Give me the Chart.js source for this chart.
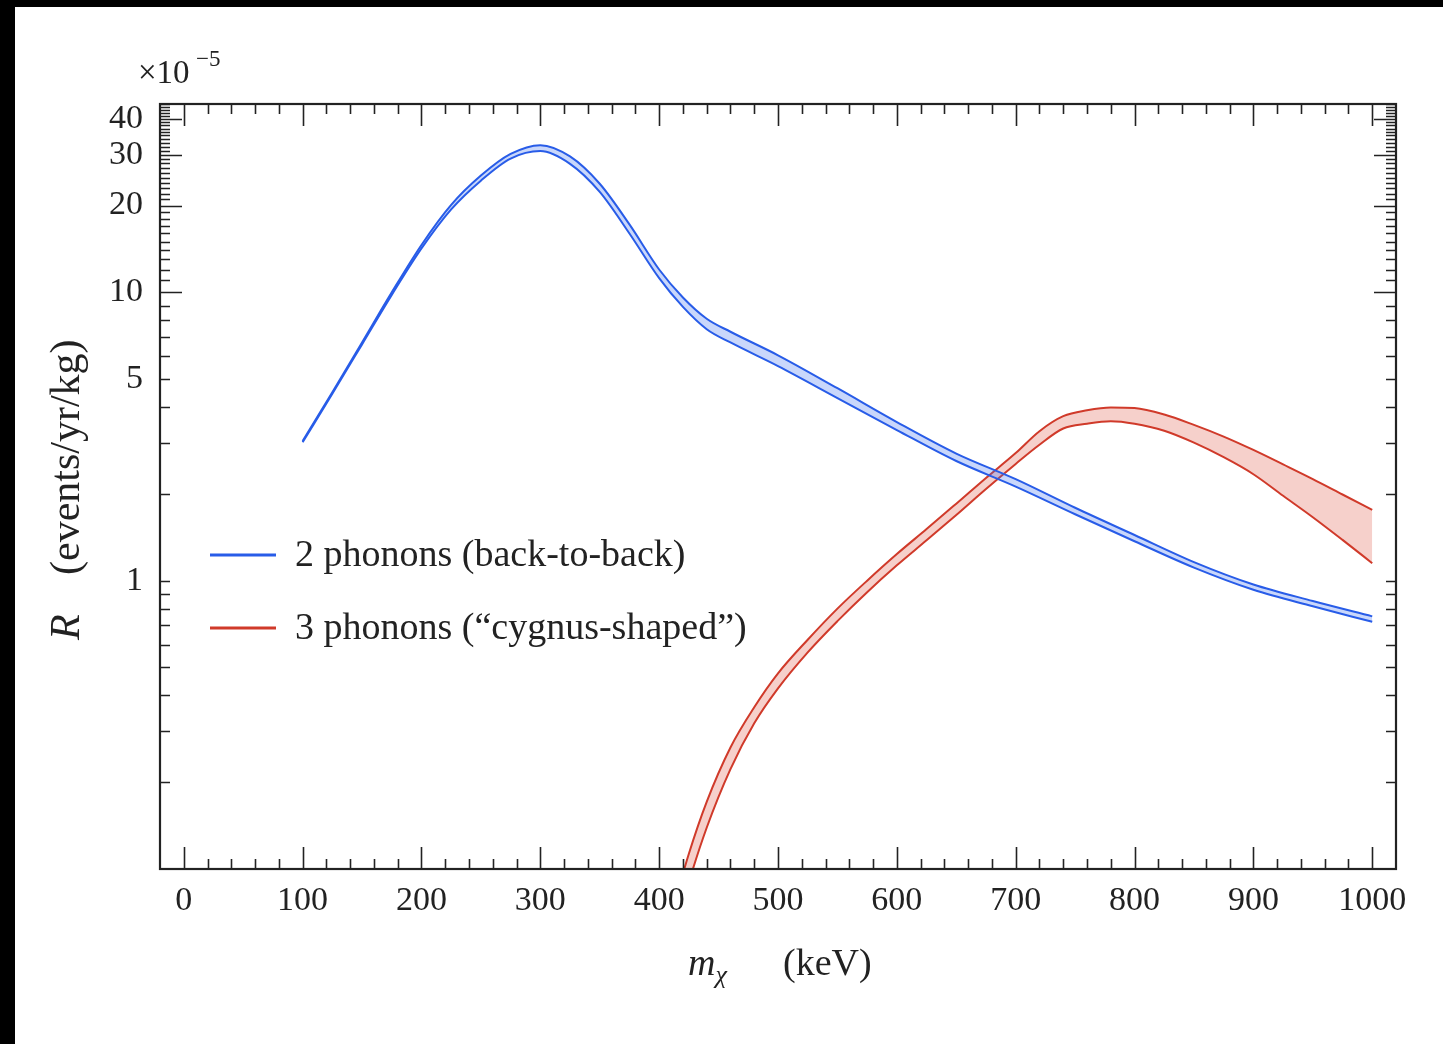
<!DOCTYPE html>
<html lang="en">
<head>
    <meta charset="UTF-8">
    <title>Event rate vs dark matter mass</title>
    <script src="https://cdn.jsdelivr.net/npm/chart.js"></script>
    <style>
        body { margin: 0; background: #000; }
        #wrap { position: absolute; left: 15px; top: 7px; width: 1428px; height: 1037px; background: #fff; }
        canvas { display: block; }
    </style>
</head>
<body>
<div id="wrap"><canvas id="rateChart" width="1428" height="1037"></canvas></div>
<script>
    // masses (keV) and rates (x 1e-5 events/yr/kg)
    const twoPhononMass = [100, 125, 150, 175, 200, 225, 250, 275, 300, 325, 350, 375, 400, 420, 440, 460, 500, 550, 600, 650, 700, 750, 800, 850, 900, 950, 1000];
    const twoPhononHigh = [3.05, 4.5, 6.7, 10.0, 14.6, 20.1, 25.4, 30.2, 32.4, 29.6, 23.8, 17.2, 12.0, 9.6, 8.1, 7.3, 6.05, 4.65, 3.55, 2.76, 2.25, 1.79, 1.44, 1.16, 0.97, 0.85, 0.752];
    const twoPhononLow = [3.02, 4.45, 6.6, 9.8, 14.2, 19.4, 24.4, 29.1, 30.9, 27.9, 22.3, 16.0, 11.2, 8.9, 7.45, 6.7, 5.55, 4.3, 3.33, 2.6, 2.12, 1.7, 1.37, 1.11, 0.93, 0.815, 0.72];

    const threePhononMass = [410, 425, 440, 460, 480, 500, 525, 550, 575, 600, 625, 650, 675, 700, 720, 740, 760, 780, 800, 825, 850, 875, 900, 925, 950, 975, 1000];
    const threePhononHigh = [0.069, 0.113, 0.171, 0.264, 0.364, 0.477, 0.624, 0.80, 1.0, 1.237, 1.51, 1.85, 2.27, 2.77, 3.30, 3.72, 3.90, 3.99, 3.97, 3.77, 3.47, 3.16, 2.84, 2.53, 2.25, 1.99, 1.76];
    const threePhononLow = [0.054, 0.090, 0.139, 0.222, 0.32, 0.423, 0.564, 0.724, 0.912, 1.13, 1.38, 1.69, 2.08, 2.54, 2.96, 3.37, 3.50, 3.57, 3.50, 3.31, 3.01, 2.68, 2.34, 1.97, 1.66, 1.385, 1.15];

    const seriesNames = ["2 phonons (back-to-back)", "3 phonons (\u201Ccygnus-shaped\u201D)"];

    // axis ticks
    const xLabelTicks = [0, 100, 200, 300, 400, 500, 600, 700, 800, 900, 1000];
    const xMinorTicks = [];
    for (let v = 20; v < 1000; v += 20) if (v % 100 !== 0) xMinorTicks.push(v);
    const yLabelTicks = [1, 5, 10, 20, 30, 40];
    const yLongTicks = [10, 20, 30, 40];
    const yShortTicks = [0.2, 0.3, 0.4, 0.5, 0.6, 0.7, 0.8, 0.9, 1, 2, 3, 4, 5, 6, 7, 8, 9];
    for (let v = 11; v <= 45; v++) if (v % 10 !== 0) yShortTicks.push(v);

    const BLUE = "rgb(40, 92, 232)";
    const BLUE_FILL = "rgba(60, 110, 240, 0.28)";
    const RED = "rgb(208, 58, 42)";
    const RED_FILL = "rgba(222, 72, 56, 0.26)";
    const INK = "#222";
    const SERIF = "'Liberation Serif', 'DejaVu Serif', serif";

    function pts(xs, ys) {
        return xs.map((x, i) => ({ x: x, y: ys[i] }));
    }

    // frame, inward ticks, titles, legend
    const framePlugin = {
        id: "frame",
        afterDraw(chart) {
            const ctx = chart.ctx;
            const a = chart.chartArea;
            const xs = chart.scales.x, ys = chart.scales.y;
            ctx.save();
            ctx.strokeStyle = INK;
            ctx.lineWidth = 1.6;
            ctx.beginPath();
            const xt = (vals, len) => vals.forEach(v => {
                const p = Math.round(xs.getPixelForValue(v)) + 0.5;
                ctx.moveTo(p, a.bottom); ctx.lineTo(p, a.bottom - len);
                ctx.moveTo(p, a.top); ctx.lineTo(p, a.top + len);
            });
            const yt = (vals, len) => vals.forEach(v => {
                const p = Math.round(ys.getPixelForValue(v)) + 0.5;
                ctx.moveTo(a.left, p); ctx.lineTo(a.left + len, p);
                ctx.moveTo(a.right, p); ctx.lineTo(a.right - len, p);
            });
            xt(xLabelTicks, 22);
            xt(xMinorTicks, 10);
            yt(yLongTicks, 22);
            yt(yShortTicks, 10);
            ctx.stroke();
            ctx.lineWidth = 2.2;
            ctx.strokeRect(a.left, a.top, a.right - a.left, a.bottom - a.top);

            ctx.fillStyle = INK;
            ctx.textAlign = "left";
            ctx.textBaseline = "alphabetic";

            // multiplier
            ctx.font = "33px " + SERIF;
            ctx.fillText("\u00D710", 123, 76);
            ctx.font = "23px " + SERIF;
            ctx.fillText("\u22125", 181, 59);

            // x title
            ctx.font = "italic 38px " + SERIF;
            ctx.fillText("m", 673, 968);
            const m = ctx.measureText("m").width;
            ctx.font = "italic 26px " + SERIF;
            ctx.fillText("\u03C7", 673 + m, 976);
            ctx.font = "38px " + SERIF;
            ctx.fillText("(keV)", 768, 968);

            // y title
            ctx.save();
            ctx.translate(64, 480);
            ctx.rotate(-Math.PI / 2);
            ctx.font = "italic 42px " + SERIF;
            ctx.fillText("R", -153, 0);
            ctx.font = "42px " + SERIF;
            ctx.fillText("(events/yr/kg)", -88, 0);
            ctx.restore();

            // legend
            const rows = [[BLUE, 548], [RED, 621]];
            ctx.lineWidth = 3;
            ctx.font = "38px " + SERIF;
            ctx.textBaseline = "middle";
            rows.forEach((r, i) => {
                ctx.strokeStyle = r[0];
                ctx.beginPath();
                ctx.moveTo(195, r[1]); ctx.lineTo(261, r[1]);
                ctx.stroke();
                ctx.fillText(seriesNames[i], 280, r[1] + 1);
            });
            ctx.restore();
        }
    };

    const ctx = document.getElementById("rateChart").getContext("2d");
    new Chart(ctx, {
        type: "line",
        data: {
            datasets: [
                { label: seriesNames[0] + " low", data: pts(twoPhononMass, twoPhononLow), borderColor: BLUE, fill: false },
                { label: seriesNames[0], data: pts(twoPhononMass, twoPhononHigh), borderColor: BLUE, backgroundColor: BLUE_FILL, fill: "-1" },
                { label: seriesNames[1] + " low", data: pts(threePhononMass, threePhononLow), borderColor: RED, fill: false },
                { label: seriesNames[1], data: pts(threePhononMass, threePhononHigh), borderColor: RED, backgroundColor: RED_FILL, fill: "-1" }
            ]
        },
        options: {
            responsive: false,
            animation: false,
            layout: { padding: { top: 97, right: 47, left: 0, bottom: 0 } },
            elements: {
                point: { radius: 0 },
                line: { borderWidth: 2, cubicInterpolationMode: "monotone" }
            },
            plugins: {
                legend: { display: false },
                tooltip: { enabled: false }
            },
            scales: {
                x: {
                    type: "linear",
                    min: -20,
                    max: 1020,
                    grid: { display: false, drawTicks: false },
                    border: { display: false },
                    afterBuildTicks: s => { s.ticks = xLabelTicks.map(v => ({ value: v })); },
                    afterFit: s => { s.height = 175; },
                    ticks: {
                        autoSkip: false,
                        maxRotation: 0,
                        padding: 12,
                        color: INK,
                        font: { family: SERIF, size: 34 },
                        callback: v => String(v)
                    }
                },
                y: {
                    type: "logarithmic",
                    min: 0.1,
                    max: 45,
                    grid: { display: false, drawTicks: false },
                    border: { display: false },
                    afterBuildTicks: s => { s.ticks = yLabelTicks.map(v => ({ value: v })); },
                    afterFit: s => { s.width = 145; },
                    ticks: {
                        autoSkip: false,
                        padding: 17,
                        color: INK,
                        font: { family: SERIF, size: 34 },
                        callback: v => String(v)
                    }
                }
            }
        },
        plugins: [framePlugin]
    });
</script>
</body>
</html>
